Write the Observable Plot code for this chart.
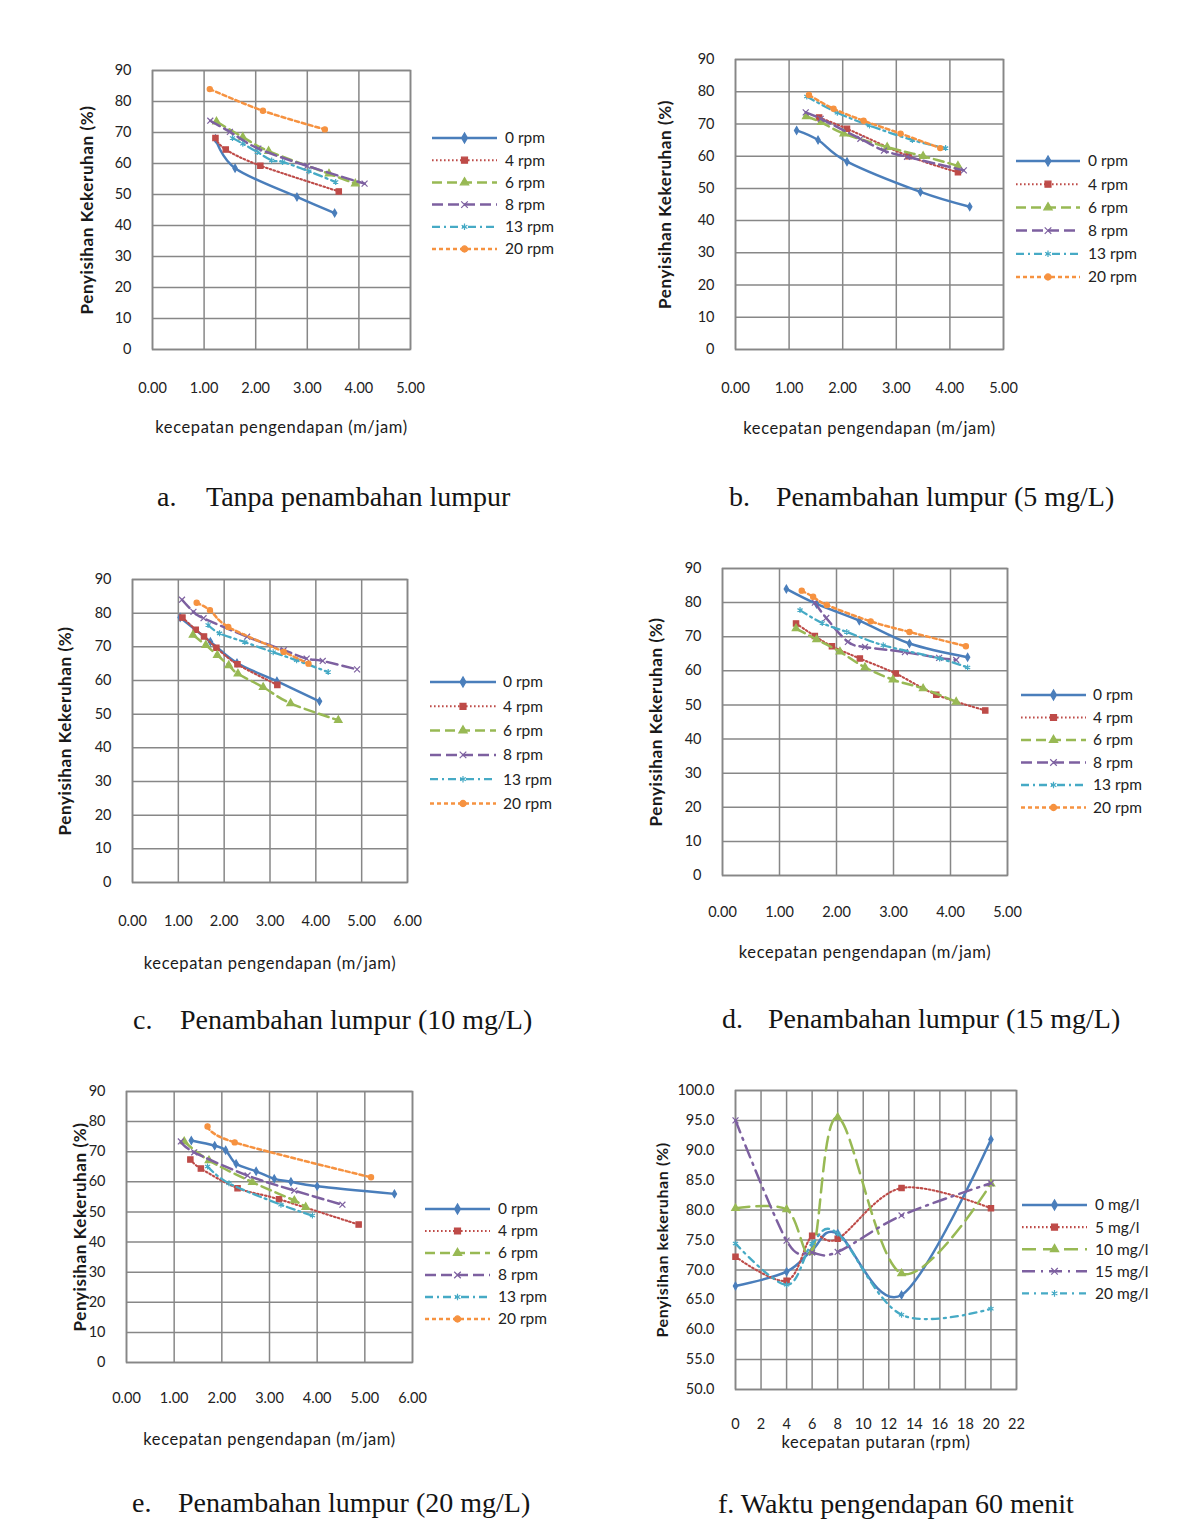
<!DOCTYPE html>
<html>
<head>
<meta charset="utf-8">
<script src="https://cdn.jsdelivr.net/npm/d3@7"></script>
<script src="https://cdn.jsdelivr.net/npm/@observablehq/plot@0.6"></script>
<style>
  body { margin: 0; background: #fff; }
  #page { position: relative; width: 1200px; height: 1524px; overflow: hidden; background: #fff; }
  .legend { position: absolute; overflow: visible; }
  .cap { position: absolute; font-family: "Liberation Serif", "Times New Roman", serif; font-size: 28px; color: #141414; white-space: nowrap; line-height: 34px; }
</style>
</head>
<body>
<div id="page"></div>
<script>
// ---- Legend labels -------------------------------------------------------
const rpmNames  = ["0 rpm", "4 rpm", "6 rpm", "8 rpm", "13 rpm", "20 rpm"];
const doseNames = ["0 mg/l", "5 mg/l", "10 mg/l", "15 mg/l", "20 mg/l"];

// ---- Tick values -----------------------------------------------------------
const ticks0to5  = [0, 1, 2, 3, 4, 5];
const ticks0to6  = [0, 1, 2, 3, 4, 5, 6];
const ticks0to90 = [0, 10, 20, 30, 40, 50, 60, 70, 80, 90];
const rpmTicks   = [0, 2, 4, 6, 8, 10, 12, 14, 16, 18, 20, 22];
const pctTicks   = [50, 55, 60, 65, 70, 75, 80, 85, 90, 95, 100];

// ---- a. Tanpa penambahan lumpur : [kecepatan pengendapan, penyisihan %] ----
const a0  = [[1.22, 68], [1.6, 58.5], [2.8, 49.2], [3.53, 44]];
const a4  = [[1.22, 68.2], [1.42, 64.5], [2.09, 59.3], [3.61, 51]];
const a6  = [[1.24, 73.5], [1.75, 68.5], [2.25, 64], [3.42, 56.7], [3.93, 53.5]];
const a8  = [[1.12, 73.8], [1.5, 70.2], [2.05, 64.8], [3.0, 59.2], [4.11, 53.5]];
const a13 = [[1.55, 68.2], [1.75, 66.4], [2.03, 63.7], [2.31, 61], [2.52, 60.5], [3.03, 57.5], [3.55, 54]];
const a20 = [[1.11, 84], [2.14, 77], [3.34, 71]];

// ---- b. Penambahan lumpur (5 mg/L) ------------------------------------------
const b0  = [[1.14, 68], [1.54, 65], [2.08, 58.3], [3.45, 48.9], [4.37, 44.3]];
const b4  = [[1.56, 72], [2.08, 68.5], [3.23, 60], [4.15, 55]];
const b6  = [[1.32, 72.3], [1.6, 70.5], [2.02, 67], [2.83, 62.8], [3.5, 60], [4.15, 57]];
const b8  = [[1.31, 73.6], [1.59, 71.6], [2.33, 65.4], [2.77, 61.7], [3.2, 59.8], [4.26, 55.6]];
const b13 = [[1.33, 78.5], [1.9, 73.5], [2.5, 69.5], [3.3, 65], [3.92, 62.5]];
const b20 = [[1.37, 79], [1.83, 74.7], [2.39, 71], [3.08, 67], [3.82, 62.5]];

// ---- c. Penambahan lumpur (10 mg/L) -----------------------------------------
const c0  = [[1.04, 78.7], [1.7, 71.5], [2.28, 65.2], [3.15, 59.8], [4.08, 53.8]];
const c4  = [[1.09, 78.7], [1.38, 75.1], [1.56, 73.1], [1.83, 69.7], [2.29, 64.8], [3.16, 58.7]];
const c6  = [[1.32, 73.5], [1.6, 70.5], [1.85, 67.5], [2.1, 64.5], [2.3, 62], [2.85, 58], [3.45, 53.2], [4.49, 48.2]];
const c8  = [[1.08, 84], [1.33, 80.4], [1.55, 78.5], [2.5, 73], [3.3, 69], [3.8, 66.5], [4.15, 65.8], [4.9, 63.3]];
const c13 = [[1.65, 76.5], [1.9, 74], [2.45, 71.4], [3.07, 68.4], [3.58, 66], [4.27, 62.5]];
const c20 = [[1.4, 83.1], [1.69, 80.9], [2.09, 75.9], [3.3, 68.5], [3.84, 65]];

// ---- d. Penambahan lumpur (15 mg/L) -----------------------------------------
const d0  = [[1.12, 84], [1.65, 79.6], [2.4, 74.7], [3.28, 68], [4.3, 64]];
const d4  = [[1.29, 73.9], [1.62, 70.2], [1.92, 67.2], [2.41, 63.6], [3.04, 59.2], [3.75, 53], [4.61, 48.4]];
const d6  = [[1.29, 72.4], [1.65, 69.2], [2.06, 65.6], [2.5, 61], [2.99, 57.4], [3.52, 54.8], [4.1, 50.9]];
const d8  = [[1.62, 80], [1.82, 75.5], [2.2, 68.5], [2.5, 67], [3.2, 65.5], [3.8, 63.8], [4.1, 63.2]];
const d13 = [[1.36, 77.8], [1.75, 74], [2.18, 71.4], [2.82, 67.5], [3.81, 63.6], [4.3, 61]];
const d20 = [[1.39, 83.5], [1.59, 81.7], [1.83, 79.3], [2.6, 74.5], [3.28, 71.4], [4.27, 67.2]];

// ---- e. Penambahan lumpur (20 mg/L) -----------------------------------------
const e0  = [[1.36, 73.7], [1.85, 72], [2.08, 70.5], [2.3, 66], [2.72, 63.5], [3.1, 61], [3.45, 60], [4.0, 58.5], [5.62, 56]];
const e4  = [[1.34, 67.4], [1.56, 64.4], [2.33, 57.9], [3.2, 54.2], [4.87, 45.8]];
const e6  = [[1.21, 73.4], [1.73, 67.1], [2.64, 59.9], [3.52, 53.8], [3.76, 51.6]];
const e8  = [[1.14, 73.4], [1.42, 69.8], [2.54, 62.1], [3.52, 57.1], [4.53, 52.4]];
const e13 = [[1.7, 65.1], [2.15, 59.5], [3.24, 52.4], [3.9, 48.8]];
const e20 = [[1.7, 78.4], [2.27, 73.1], [5.13, 61.5]];

// ---- f. Waktu pengendapan 60 menit : penyisihan (%) per kecepatan putaran ----
const rpmValues = [0, 4, 6, 8, 13, 20];
const f0  = [67.3, 69.7, 73.3, 76.1, 65.8, 91.8];
const f5  = [72.2, 68.2, 75.7, 75.2, 83.7, 80.3];
const f10 = [80.3, 80.1, 73.0, 95.5, 69.4, 84.4];
const f15 = [95.0, 74.9, 72.9, 73.0, 79.1, 84.5];
const f20 = [74.4, 67.5, 74.4, 76.1, 62.5, 63.5];

// ---- Styling -----------------------------------------------------------------
const BLUE = "#4A7EBB", RED = "#BE4B48", GREEN = "#98B954",
      PURPLE = "#7D60A0", AQUA = "#46AAC5", ORANGE = "#F69240";
const GRID = "#878787";

const rpmStyles = [
  {color: BLUE,   dash: null,        symbol: "diamond",  r: 2.3, width: 2.5},
  {color: RED,    dash: "1.6,2.4",   symbol: "square",   r: 3.0, width: 2.1},
  {color: GREEN,  dash: "10,5",      symbol: "triangle", r: 2.8, width: 2.5},
  {color: PURPLE, dash: "11,5",      symbol: "times",    r: 2.8, width: 2.5},
  {color: AQUA,   dash: "8,4,2,4",   symbol: "asterisk", r: 2.8, width: 2.3},
  {color: ORANGE, dash: "4,3",       symbol: "circle",   r: 2.6, width: 2.5}
];
const doseStyles = [
  {color: BLUE,   dash: null,          symbol: "diamond",  r: 2.3, width: 2.5},
  {color: RED,    dash: "1.6,2.4",     symbol: "square",   r: 3.0, width: 2.1},
  {color: GREEN,  dash: "14,7",        symbol: "triangle", r: 2.8, width: 2.5},
  {color: PURPLE, dash: "13,6,2,6",    symbol: "times",    r: 2.8, width: 2.5},
  {color: AQUA,   dash: "7,5,2,5",     symbol: "asterisk", r: 2.8, width: 2.3}
];
const STROKED = new Set(["times", "asterisk"]);

const page = d3.select("#page");
const xTitle = "kecepatan pengendapan (m/jam)";
const yTitle = "Penyisihan Kekeruhan (%)";

// One chart: grid, frame, smoothed lines with markers, tick labels and titles.
function drawChart(cfg) {
  const [l, r, t, b] = cfg.frame;
  const ML = 100, MR = 12, MT = 16, MB = 100;
  const marks = [
    Plot.ruleX(cfg.xTicks, {stroke: GRID, strokeWidth: 1.5}),
    Plot.ruleY(cfg.yTicks, {stroke: GRID, strokeWidth: 1.5}),
    Plot.frame({stroke: GRID, strokeWidth: 1.6})
  ];
  cfg.series.forEach((pts, i) => {
    const s = cfg.styles[i];
    marks.push(Plot.line(pts, {
      x: d => d[0], y: d => d[1], curve: "cardinal",
      stroke: s.color, strokeWidth: s.width, strokeDasharray: s.dash
    }));
    marks.push(Plot.dot(pts, {
      x: d => d[0], y: d => d[1], symbol: s.symbol, r: s.r,
      fill: STROKED.has(s.symbol) ? "none" : s.color,
      stroke: s.color, strokeWidth: 1.2
    }));
  });
  marks.push(Plot.text([cfg.xLabel], {
    text: d => d, frameAnchor: "bottom", textAnchor: "middle", dy: cfg.xLabelY - b,
    fontSize: 16.5, fill: "#1a1a1a"
  }));
  marks.push(Plot.text([cfg.yLabel], {
    text: d => d, frameAnchor: "left", textAnchor: "middle", dx: cfg.yLabelX - l, rotate: -90,
    fontSize: cfg.yLabelSize || 17, fontWeight: "bold", fill: "#1a1a1a"
  }));

  const svg = Plot.plot({
    width: (r - l) + ML + MR,
    height: (b - t) + MT + MB,
    marginLeft: ML, marginRight: MR, marginTop: MT, marginBottom: MB,
    style: {fontFamily: "Lato, 'Open Sans', sans-serif", fontSize: "14.5px", color: "#222", background: "none", overflow: "visible"},
    x: {domain: cfg.xDomain, ticks: cfg.xTicks, tickFormat: cfg.xFormat, tickSize: 0, tickPadding: cfg.xTickY - b - 5, label: null},
    y: {domain: cfg.yDomain, ticks: cfg.yTicks, tickFormat: cfg.yFormat, tickSize: 0, tickPadding: 21, label: null},
    marks
  });
  // the two axis titles are the last two text marks: widen their tracking
  const titles = svg.querySelectorAll('g[aria-label="text"]');
  titles.forEach(g => g.style.letterSpacing = cfg.titleSpacing || "0.6px");
  svg.style.position = "absolute";
  svg.style.left = (l - ML) + "px";
  svg.style.top = (t - MT) + "px";
  page.node().appendChild(svg);

  drawLegend(cfg.legend, cfg.names, cfg.styles);
  drawCaption(cfg.caption);
}

function symbolPath(name, size) {
  const types = {diamond: d3.symbolDiamond, square: d3.symbolSquare, triangle: d3.symbolTriangle,
                 times: d3.symbolTimes, asterisk: d3.symbolAsterisk, circle: d3.symbolCircle};
  return d3.symbol(types[name], size)();
}

function drawLegend(lg, names, styles) {
  const h = (names.length - 1) * lg.dy + 24;
  const svg = page.append("svg").attr("class", "legend")
    .attr("width", 170).attr("height", h)
    .style("left", lg.x + "px").style("top", (lg.y0 - 12) + "px");
  names.forEach((name, i) => {
    const s = styles[i];
    const y = 12 + i * lg.dy;
    svg.append("line").attr("x1", 0).attr("x2", lg.len).attr("y1", y).attr("y2", y)
      .attr("stroke", s.color).attr("stroke-width", s.width)
      .attr("stroke-dasharray", s.dash);
    svg.append("path").attr("d", symbolPath(s.symbol, s.symbol === "square" ? 36 : 30))
      .attr("transform", `translate(${lg.len / 2},${y})`)
      .attr("fill", STROKED.has(s.symbol) ? "none" : s.color)
      .attr("stroke", s.color).attr("stroke-width", 1.2);
    svg.append("text").attr("x", lg.text).attr("y", y).attr("dy", "0.35em")
      .attr("font-family", "Lato, 'Open Sans', sans-serif").attr("font-size", 15.5)
      .attr("fill", "#222").text(name);
  });
}

function drawCaption(c) {
  const div = page.append("div").attr("class", "cap").style("top", (c.y - 17) + "px").style("left", "0px");
  if (c.label) div.append("span").style("position", "absolute").style("left", c.labelX + "px").text(c.label);
  div.append("span").style("position", "absolute").style("left", c.textX + "px").text(c.text);
}

const fmt2 = d3.format(".2f");
const fmt1 = d3.format(".1f");

const panels = [
  {frame: [152, 410, 70, 349], xDomain: [0, 5], xTicks: ticks0to5, series: [a0, a4, a6, a8, a13, a20],
   legend: {x: 432, y0: 137.7, dy: 22.2, len: 65, text: 73},
   caption: {y: 497, label: "a.", labelX: 157, textX: 206, text: "Tanpa penambahan lumpur"},
   xTickY: 387, xLabelY: 432, yLabelX: 87},
  {frame: [735, 1003, 59, 349], xDomain: [0, 5], xTicks: ticks0to5, series: [b0, b4, b6, b8, b13, b20],
   legend: {x: 1016, y0: 160.7, dy: 23.2, len: 64, text: 72},
   caption: {y: 497, label: "b.", labelX: 729, textX: 776, text: "Penambahan lumpur (5 mg/L)"},
   xTickY: 387, xLabelY: 433, yLabelX: 665},
  {frame: [132, 407, 579, 882], xDomain: [0, 6], xTicks: ticks0to6, series: [c0, c4, c6, c8, c13, c20],
   legend: {x: 430, y0: 681.7, dy: 24.3, len: 66, text: 73},
   caption: {y: 1020, label: "c.", labelX: 133, textX: 180, text: "Penambahan lumpur (10 mg/L)"},
   xTickY: 920, xLabelY: 968, yLabelX: 65},
  {frame: [722, 1007, 568, 875], xDomain: [0, 5], xTicks: ticks0to5, series: [d0, d4, d6, d8, d13, d20],
   legend: {x: 1021, y0: 695, dy: 22.5, len: 65, text: 72},
   caption: {y: 1019, label: "d.", labelX: 722, textX: 768, text: "Penambahan lumpur (15 mg/L)"},
   xTickY: 911, xLabelY: 957, yLabelX: 656},
  {frame: [126, 412, 1091, 1362], xDomain: [0, 6], xTicks: ticks0to6, series: [e0, e4, e6, e8, e13, e20],
   legend: {x: 425, y0: 1209.3, dy: 22, len: 65, text: 73},
   caption: {y: 1503, label: "e.", labelX: 132, textX: 178, text: "Penambahan lumpur (20 mg/L)"},
   xTickY: 1397, xLabelY: 1444, yLabelX: 80}
].map(p => ({
  ...p, yDomain: [0, 90], yTicks: ticks0to90, xFormat: fmt2, yFormat: d3.format("d"),
  names: rpmNames, styles: rpmStyles, xLabel: xTitle, yLabel: yTitle
}));

const toPairs = values => rpmValues.map((x, i) => [x, values[i]]);
panels.push({
  frame: [735, 1016, 1090, 1389], xDomain: [0, 22], xTicks: rpmTicks, yDomain: [50, 100], yTicks: pctTicks,
  xFormat: d3.format("d"), yFormat: fmt1,
  series: [f0, f5, f10, f15, f20].map(toPairs),
  names: doseNames, styles: doseStyles,
  legend: {x: 1022, y0: 1205, dy: 22.1, len: 65, text: 73},
  caption: {y: 1504, label: null, textX: 718, text: "f. Waktu pengendapan 60 menit"},
  xTickY: 1423, xLabelY: 1447, yLabelX: 662, yLabelSize: 16,
  xLabel: "kecepatan putaran (rpm)", yLabel: "Penyisihan kekeruhan (%)"
});

panels.forEach(drawChart);
</script>
</body>
</html>
